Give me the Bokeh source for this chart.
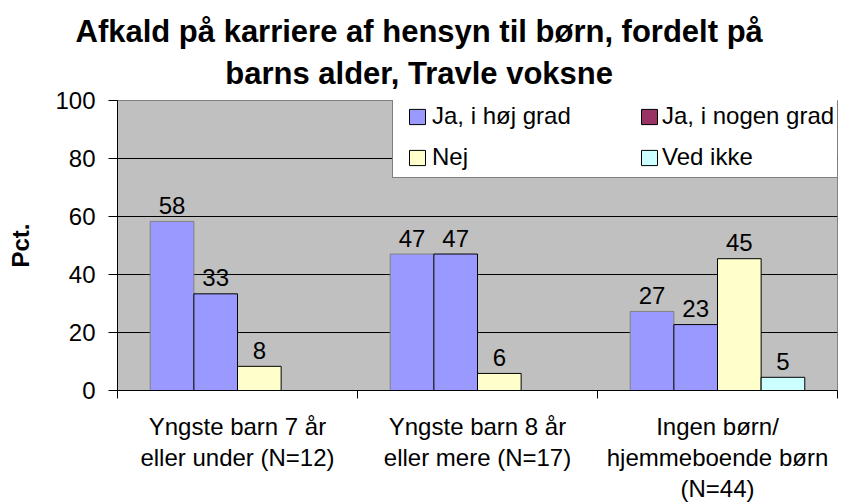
import math
from bokeh.plotting import figure
from bokeh.models import (ColumnDataSource, Range1d, FixedTicker, Legend,
                          LegendItem)
from bokeh.transform import dodge
from bokeh.core.properties import value
from bokeh.embed import file_html
from bokeh.resources import INLINE

# ---------------- data ----------------
title_lines = ["Afkald på karriere af hensyn til børn, fordelt på",
               "barns alder, Travle voksne"]
categories = ["Yngste barn 7 år\neller under (N=12)",
              "Yngste barn 8 år\neller mere (N=17)",
              "Ingen børn/\nhjemmeboende børn\n(N=44)"]
series_names = ["Ja, i høj grad", "Ja, i nogen grad", "Nej", "Ved ikke"]
ja_i_hoej_grad = [58.33, 47.06, 27.27]
ja_i_nogen_grad = [33.33, 47.06, 22.73]
nej = [8.33, 5.88, 45.45]
ved_ikke = [0.0, 0.0, 4.55]
y_ticks = [0, 20, 40, 60, 80, 100]
y_label = "Pct."

# ---------------- style ----------------
FONT = "Liberation Sans"
bar_fills = ["#9999FF", "#9999FF", "#FFFFCC", "#CCFFFF"]
bar_lines = ["#808080", "#000000", "#000000", "#000000"]
legend_fills = ["#9999FF", "#993366", "#FFFFCC", "#CCFFFF"]
bar_w = 1 / 5.5

p = figure(width=850, height=504, x_range=Range1d(0, len(categories)),
           y_range=Range1d(0, 100), output_backend="svg",
           toolbar_location=None, min_border_left=117, min_border_right=13,
           min_border_top=100, min_border_bottom=112)
p.background_fill_color = "#C0C0C0"
p.border_fill_color = "white"
p.outline_line_color = "#808080"
p.outline_line_width = 1

# title: one block, lines centred within it
p.title.text = "\n".join(title_lines)
p.title.align = "left"
p.title.offset = -42
p.title.text_align = "center"
p.title.text_font = FONT
p.title.text_font_size = "31px"
p.title.text_font_style = "bold"
p.title.text_color = "black"
p.title.text_line_height = 1.2
p.title.standoff = 20
p.title.vertical_align = "bottom"

series = [ja_i_hoej_grad, ja_i_nogen_grad, nej, ved_ikke]
centers = [i + 0.5 for i in range(len(categories))]
offsets = [(k - 1.5) * bar_w for k in range(4)]

legend_renderers = []
for k, vals in enumerate(series):
    xs = [c for c, v in zip(centers, vals) if v > 0]
    tops = [v for v in vals if v > 0]
    labs = [str(int(math.floor(v + 0.5))) for v in tops]
    src = ColumnDataSource(dict(x=xs, top=tops, label=labs))
    xd = dodge("x", offsets[k], range=p.x_range)
    p.vbar(x=xd, top="top", width=bar_w, source=src,
           fill_color=bar_fills[k], line_color=bar_lines[k], line_width=1)
    p.text(x=xd, y="top", text="label", source=src,
           text_font=value(FONT), text_font_size="24px", text_color="black",
           text_align="center", text_baseline="alphabetic", y_offset=-16)
    # hidden twin used only for the legend swatch
    legend_renderers.append(
        p.vbar(x=xd, top="top", width=bar_w, source=src,
               fill_color=legend_fills[k], line_color="#000000",
               line_width=1, visible=False))

box_dummy = p.vbar(x=dodge("x", 0, range=p.x_range), top="top", width=bar_w,
                   source=legend_renderers[0].data_source,
                   fill_alpha=0, line_alpha=0, visible=False)

box_legend = Legend(items=[LegendItem(label=" ", renderers=[box_dummy])],
                    location=(275, 212), padding=0, margin=0,
                    glyph_width=1, glyph_height=1, label_standoff=0,
                    label_width=444, label_height=79,
                    border_line_color="black", border_line_width=1,
                    background_fill_color="white", background_fill_alpha=1,
                    label_text_font_size="24px")
p.add_layout(box_legend, "center")


def col_legend(idx, loc, standoff):
    return Legend(items=[LegendItem(label=series_names[i],
                                    renderers=[legend_renderers[i]]) for i in idx],
                  location=loc, padding=0, margin=0, spacing=13,
                  glyph_width=20, glyph_height=19, label_standoff=standoff,
                  label_text_font=FONT, label_text_font_size="24px",
                  label_text_color="black",
                  border_line_alpha=0, background_fill_alpha=0)


p.add_layout(col_legend([0, 2], (290, 219), 5), "center")
p.add_layout(col_legend([1, 3], (522, 219), 3), "center")

# axes
xax = p.xaxis[0]
xax.ticker = FixedTicker(ticks=centers, minor_ticks=list(range(len(categories) + 1)))
xax.major_label_overrides = {c: lab for c, lab in zip(centers, categories)}
xax.major_tick_out = 0
xax.major_tick_in = 0
xax.minor_tick_out = 8
xax.minor_tick_in = 0
xax.minor_tick_line_color = "black"
xax.axis_line_color = "black"
xax.major_label_text_font = FONT
xax.major_label_text_font_size = "24px"
xax.major_label_text_color = "black"
xax.major_label_standoff = 14
xax.major_label_text_line_height = 1.15

yax = p.yaxis[0]
yax.ticker = FixedTicker(ticks=y_ticks)
yax.major_tick_out = 9
yax.major_tick_in = 0
yax.major_tick_line_color = "black"
yax.minor_tick_line_color = None
yax.axis_line_color = "black"
yax.major_label_text_font = FONT
yax.major_label_text_font_size = "24px"
yax.major_label_text_color = "black"
yax.major_label_standoff = 13
yax.axis_label = y_label
yax.axis_label_text_font = FONT
yax.axis_label_text_font_size = "24px"
yax.axis_label_text_font_style = "bold"
yax.axis_label_text_color = "black"
yax.axis_label_standoff = 18

p.xgrid.visible = False
p.ygrid.ticker = FixedTicker(ticks=[tk for tk in y_ticks if 0 < tk < 100])
p.ygrid.grid_line_color = "black"
p.ygrid.grid_line_width = 1

open("out.html", "w").write(file_html(p, INLINE))
